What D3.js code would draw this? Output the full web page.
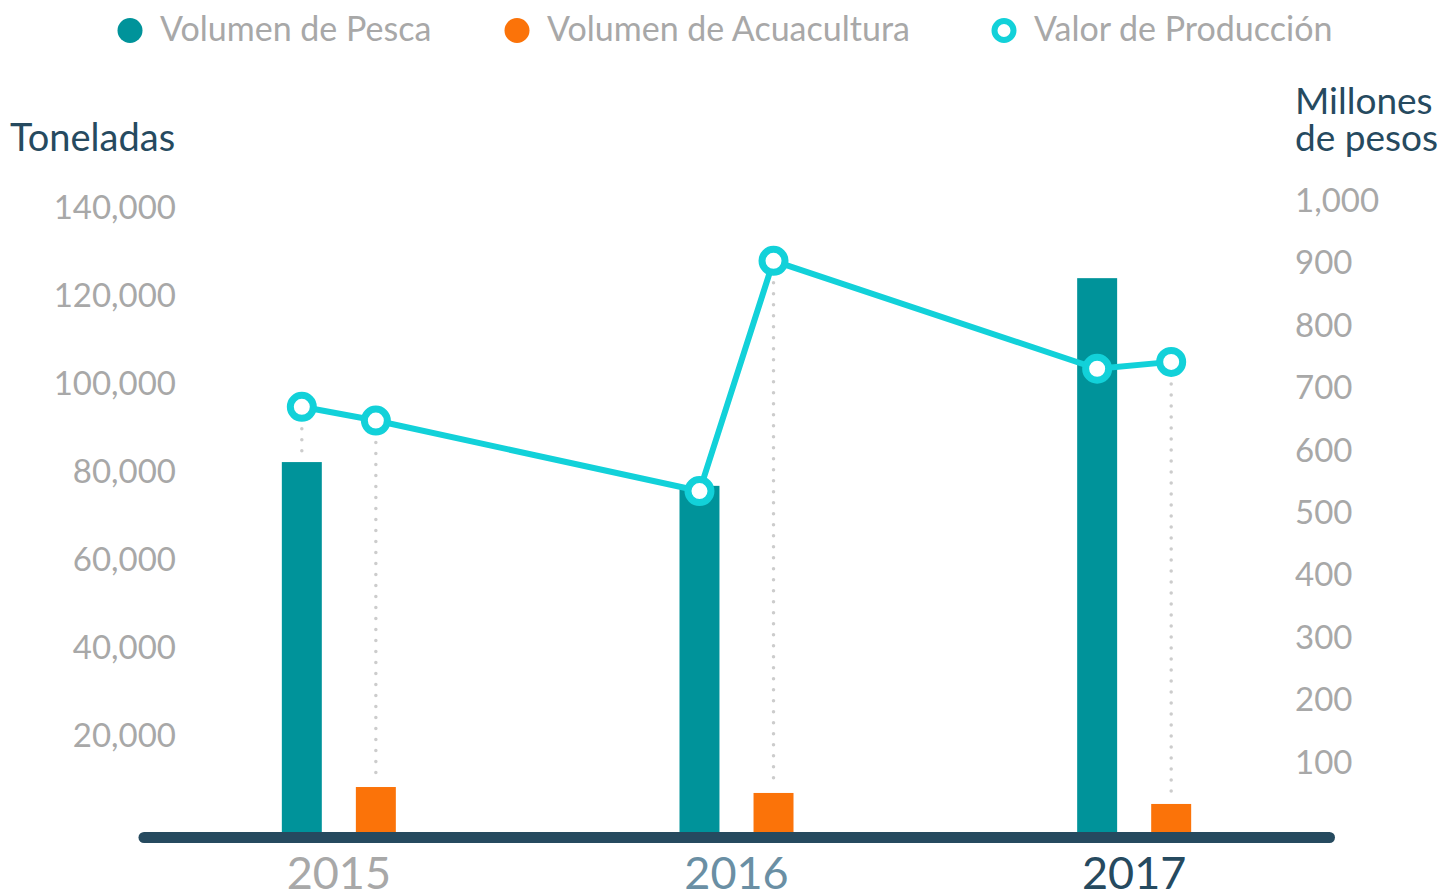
<!DOCTYPE html>
<html lang="es">
<head>
<meta charset="utf-8">
<title>Pesca y Acuacultura</title>
<script src="https://cdn.jsdelivr.net/npm/d3@7"></script>
<style>
  html, body { margin: 0; padding: 0; background: #fff; }
  #chart svg { display: block; font-family: "Lato", "Open Sans", sans-serif; }
</style>
</head>
<body>
<div id="chart"></div>
<script>
(function () {
  "use strict";

  // ── Datos ──────────────────────────────────────────────
  const years = ["2015", "2016", "2017"];
  const pesca = [84300, 78900, 126100]; // toneladas
  const acuacultura = [10450, 9100, 6600]; // toneladas
  const valorPesca = [683, 548, 744]; // millones de pesos
  const valorAcua = [661, 917, 755]; // millones de pesos
  const leftTicks = [20000, 40000, 60000, 80000, 100000, 120000, 140000];
  const rightTicks = [100, 200, 300, 400, 500, 600, 700, 800, 900, 1000];
  const legendLabels = ["Volumen de Pesca", "Volumen de Acuacultura", "Valor de Producción"];

  // ── Configuración ──────────────────────────────────────
  const width = 1442;
  const height = 892;
  const BASE_Y = 833;
  const COLORS = { pesca: "#00939a", acua: "#fb7309", valor: "#12d1d9", dark: "#264a5f", grey: "#a8a8a8" };
  const YEAR_COLORS = ["#a8a8a8", "#6a8fa4", "#264a5f"];

  const svg = d3.select("#chart").append("svg").attr("width", width).attr("height", height);

  // Escalas
  const x0 = d3.scaleBand().domain(years).range([140, 1333]).padding(0);
  const x1 = d3
    .scaleBand()
    .domain(["pesca", "acua"])
    .range([x0.bandwidth() / 2 - 57, x0.bandwidth() / 2 + 57])
    .paddingInner(0.46)
    .paddingOuter(0);
  const yL = d3.scaleLinear().domain([0, 140000]).range([BASE_Y, BASE_Y - 616]);
  const yR = d3.scaleLinear().domain([0, 1000]).range([BASE_Y, BASE_Y - 624]);

  const cx = (i, k) => x0(years[i]) + x1(k) + x1.bandwidth() / 2;

  // ── Ejes ───────────────────────────────────────────────
  const gLeft = svg
    .append("g")
    .attr("transform", "translate(176,-9)")
    .call(d3.axisLeft(yL).tickValues(leftTicks).tickSize(0).tickPadding(0).tickFormat(d3.format(",")));
  gLeft.select(".domain").remove();
  gLeft.selectAll("text").attr("font-size", "33px").attr("fill", COLORS.grey).attr("font-family", "Lato");

  const gRight = svg
    .append("g")
    .attr("transform", "translate(1295,-8)")
    .call(d3.axisRight(yR).tickValues(rightTicks).tickSize(0).tickPadding(0).tickFormat(d3.format(",")));
  gRight.select(".domain").remove();
  gRight.selectAll("text").attr("font-size", "33px").attr("fill", COLORS.grey).attr("font-family", "Lato");

  // Títulos de ejes
  svg.append("text").attr("x", 10).attr("y", 151).attr("font-size", "38px").attr("fill", COLORS.dark).text("Toneladas");
  svg.append("text").attr("x", 1295).attr("y", 114).attr("font-size", "37px").attr("fill", COLORS.dark).text("Millones");
  svg.append("text").attr("x", 1295).attr("y", 151).attr("font-size", "37px").attr("fill", COLORS.dark).text("de pesos");

  // ── Líneas punteadas guía ──────────────────────────────
  const gGuides = svg.append("g");
  years.forEach((yr, i) => {
    [
      ["pesca", valorPesca[i], pesca[i]],
      ["acua", valorAcua[i], acuacultura[i]],
    ].forEach(([k, v, b]) => {
      gGuides
        .append("line")
        .attr("x1", cx(i, k))
        .attr("x2", cx(i, k))
        .attr("y1", yR(v))
        .attr("y2", yL(b) - 8)
        .attr("stroke", "#cccccc")
        .attr("stroke-width", 3.5)
        .attr("stroke-linecap", "round")
        .attr("stroke-dasharray", "0,11");
    });
  });

  // ── Barras ─────────────────────────────────────────────
  const gBars = svg.append("g");
  gBars
    .selectAll("rect.pesca")
    .data(pesca)
    .join("rect")
    .attr("class", "pesca")
    .attr("x", (d, i) => x0(years[i]) + x1("pesca"))
    .attr("width", x1.bandwidth())
    .attr("y", (d) => yL(d))
    .attr("height", (d) => BASE_Y - yL(d))
    .attr("fill", COLORS.pesca);

  gBars
    .selectAll("rect.acua")
    .data(acuacultura)
    .join("rect")
    .attr("class", "acua")
    .attr("x", (d, i) => x0(years[i]) + x1("acua"))
    .attr("width", x1.bandwidth())
    .attr("y", (d) => yL(d))
    .attr("height", (d) => BASE_Y - yL(d))
    .attr("fill", COLORS.acua);

  // Eje base
  const [r0, r1] = x0.range();
  svg
    .append("line")
    .attr("x1", r0 + 4)
    .attr("x2", r1 - 3.5)
    .attr("y1", 837.5)
    .attr("y2", 837.5)
    .attr("stroke", COLORS.dark)
    .attr("stroke-width", 11)
    .attr("stroke-linecap", "round");

  // Etiquetas de años
  svg
    .selectAll("text.year")
    .data(years)
    .join("text")
    .attr("class", "year")
    .attr("x", (d) => x0(d) + x0.bandwidth() / 2)
    .attr("y", 889)
    .attr("text-anchor", "middle")
    .attr("font-size", "45px")
    .attr("fill", (d, i) => YEAR_COLORS[i])
    .text((d) => d);

  // ── Línea de valor ─────────────────────────────────────
  const points = [];
  years.forEach((yr, i) => {
    points.push([cx(i, "pesca"), yR(valorPesca[i])]);
    points.push([cx(i, "acua"), yR(valorAcua[i])]);
  });

  svg
    .append("path")
    .attr("d", d3.line()(points))
    .attr("fill", "none")
    .attr("stroke", COLORS.valor)
    .attr("stroke-width", 6)
    .attr("stroke-linejoin", "round");

  svg
    .selectAll("circle.valor")
    .data(points)
    .join("circle")
    .attr("class", "valor")
    .attr("cx", (d) => d[0])
    .attr("cy", (d) => d[1])
    .attr("r", 11.5)
    .attr("fill", "#fff")
    .attr("stroke", COLORS.valor)
    .attr("stroke-width", 7);

  // ── Leyenda ────────────────────────────────────────────
  const legendX = [130, 517, 1004];
  const gLegend = svg.append("g");
  legendLabels.forEach((lab, i) => {
    if (i < 2) {
      gLegend
        .append("circle")
        .attr("cx", legendX[i])
        .attr("cy", 30.5)
        .attr("r", 12.5)
        .attr("fill", i === 0 ? COLORS.pesca : COLORS.acua);
    } else {
      gLegend
        .append("circle")
        .attr("cx", legendX[i])
        .attr("cy", 30.5)
        .attr("r", 9.5)
        .attr("fill", "#fff")
        .attr("stroke", COLORS.valor)
        .attr("stroke-width", 6);
    }
    gLegend
      .append("text")
      .attr("x", legendX[i] + 30)
      .attr("y", 41)
      .attr("font-size", "34px")
      .attr("fill", COLORS.grey)
      .text(lab);
  });
})();
</script>
</body>
</html>
